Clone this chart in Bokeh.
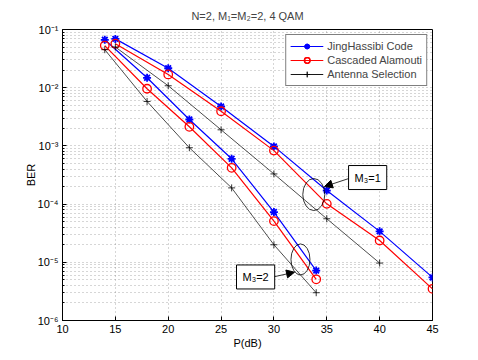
from bokeh.plotting import figure
from bokeh.models import (FixedTicker, CustomJSTickFormatter, Label, Arrow, NormalHead,
                          Legend, LegendItem, Range1d)
from bokeh.embed import file_html
from bokeh.resources import INLINE

# ---- data ----
x_m1 = [15, 20, 25, 30, 35, 40, 45]
jh_m1 = [0.069, 0.0216, 0.00475, 0.00098, 0.000171, 3.4e-5, 5.5e-6]
ca_m1 = [0.057, 0.0169, 0.00394, 0.00083, 0.000101, 2.37e-5, 3.5e-6]
x_as_m1 = [15, 20, 25, 30, 35, 40]
as_m1 = [0.05, 0.0108, 0.00189, 0.00033, 5.6e-5, 9.7e-6]

x_m2 = [14, 18, 22, 26, 30, 34]
jh_m2 = [0.0665, 0.0148, 0.00284, 0.0006, 7.3e-5, 7.2e-6]
ca_m2 = [0.053, 0.0096, 0.00213, 0.00042, 5.1e-5, 5.1e-6]
as_m2 = [0.045, 0.0058, 0.00093, 0.00019, 2.0e-5, 3.0e-6]

x_ticks = [10, 15, 20, 25, 30, 35, 40, 45]
y_ticks = [1e-6, 1e-5, 1e-4, 1e-3, 1e-2, 1e-1]

FONT = "Liberation Sans"

p = figure(width=470, height=352, y_axis_type="log",
           x_range=Range1d(10, 45), y_range=Range1d(1e-6, 1e-1),
           output_backend="svg", toolbar_location=None,
           min_border_left=62, min_border_right=38, min_border_top=29, min_border_bottom=32)

p.title.text = "N=2, M\u2081=M\u2082=2, 4 QAM"
p.title.align = "center"
p.title.text_font = FONT
p.title.text_font_size = "11px"
p.title.text_font_style = "normal"
p.title.standoff = 15

p.outline_line_color = "black"
p.outline_line_width = 1

# axes
p.xaxis.ticker = FixedTicker(ticks=x_ticks)
minor_y = [m * t for t in y_ticks[:-1] for m in range(2, 10)]
p.yaxis.ticker = FixedTicker(ticks=y_ticks, minor_ticks=minor_y)
p.yaxis.formatter = CustomJSTickFormatter(code="""
const e = Math.round(Math.log10(tick));
const sup = {"-":"\u207b","0":"\u2070","1":"\u00b9","2":"\u00b2","3":"\u00b3","4":"\u2074","5":"\u2075","6":"\u2076","7":"\u2077","8":"\u2078","9":"\u2079"};
return "10" + String(e).split("").map(c => sup[c]).join("");
""")
for ax in (p.xaxis[0], p.yaxis[0]):
    ax.axis_line_color = "black"
    ax.major_tick_line_color = "black"
    ax.minor_tick_line_color = "black"
    ax.major_tick_in = 4
    ax.major_tick_out = 0
    ax.minor_tick_in = 2
    ax.minor_tick_out = 0
    ax.major_label_text_font = FONT
    ax.major_label_text_font_size = "11px"
    ax.major_label_text_color = "black"
    ax.axis_label_text_font = FONT
    ax.axis_label_text_font_size = "11px"
    ax.axis_label_text_font_style = "normal"
    ax.axis_label_text_color = "black"
p.xaxis.minor_tick_line_color = None
p.xaxis.axis_label = "P(dB)"
p.yaxis.axis_label = "BER"
p.xaxis.major_label_standoff = 4
p.yaxis.major_label_standoff = 4
p.xaxis.axis_label_standoff = 1
p.yaxis.axis_label_standoff = -2

# grid
for g in (p.xgrid[0], p.ygrid[0]):
    g.grid_line_color = "#777777"
    g.grid_line_dash = "1 3"
    g.grid_line_alpha = 0.6
p.ygrid.minor_grid_line_color = "#777777"
p.ygrid.minor_grid_line_dash = "1 3"
p.ygrid.minor_grid_line_alpha = 0.6

BLUE = "#0000ff"
RED = "#ff0000"

items = []
# JingHassibi
r = []
for xs, ys in ((x_m1, jh_m1), (x_m2, jh_m2)):
    r.append(p.line(xs, ys, line_color=BLUE, line_width=1.2))
    r.append(p.scatter(xs, ys, marker="asterisk", size=8, line_color=BLUE, line_width=1.8))
items.append(LegendItem(label="JingHassibi Code", renderers=r))
# Cascaded Alamouti
r = []
for xs, ys in ((x_m1, ca_m1), (x_m2, ca_m2)):
    r.append(p.line(xs, ys, line_color=RED, line_width=1.2))
    r.append(p.scatter(xs, ys, marker="circle", size=8.5, line_color=RED, fill_color=None, line_width=1.3))
items.append(LegendItem(label="Cascaded Alamouti", renderers=r))
# Antenna Selection
r = []
for xs, ys in ((x_as_m1, as_m1), (x_m2, as_m2)):
    r.append(p.line(xs, ys, line_color="black", line_width=0.7))
    r.append(p.scatter(xs, ys, marker="cross", size=7, line_color="black", line_width=0.8))
items.append(LegendItem(label="Antenna Selection", renderers=r))

legend = Legend(items=items, location="top_right", margin=5, padding=4, spacing=0,
                label_text_font=FONT, label_text_font_size="11px", label_height=14,
                glyph_height=14, glyph_width=33, label_standoff=4,
                border_line_color="black", border_line_width=1,
                background_fill_color="white", background_fill_alpha=1)
p.add_layout(legend)

# annotations: ellipses, arrows, labels
p.ellipse(x=[33.77], y=[1.46e-4], width=22, height=32, width_units="screen", height_units="screen",
          fill_color=None, line_color="black", line_width=0.8)
p.ellipse(x=[32.51], y=[1.12e-5], width=19, height=31, width_units="screen", height_units="screen",
          fill_color=None, line_color="black", line_width=0.8)

p.add_layout(Arrow(end=NormalHead(size=8, fill_color="black", line_color="black"),
                   x_start=37.08, y_start=2.75e-4, x_end=34.78, y_end=2.0e-4,
                   line_color="black", line_width=0.8))
p.add_layout(Arrow(end=NormalHead(size=8, fill_color="black", line_color="black"),
                   x_start=29.84, y_start=5.55e-6, x_end=31.95, y_end=6.76e-6,
                   line_color="black", line_width=0.8))

for lx, ly, txt in ((37.06, 2.86e-4, "M\u2083=1"), (26.46, 5.6e-6, "M\u2083=2")):
    p.add_layout(Label(x=lx, y=ly, text=txt, text_font=FONT, text_font_size="11px",
                       text_align="left", text_baseline="middle", text_color="black",
                       border_line_color="black", border_line_width=1,
                       background_fill_color="white", background_fill_alpha=1,
                       padding=6))

open("out.html", "w").write(file_html(p, INLINE))
